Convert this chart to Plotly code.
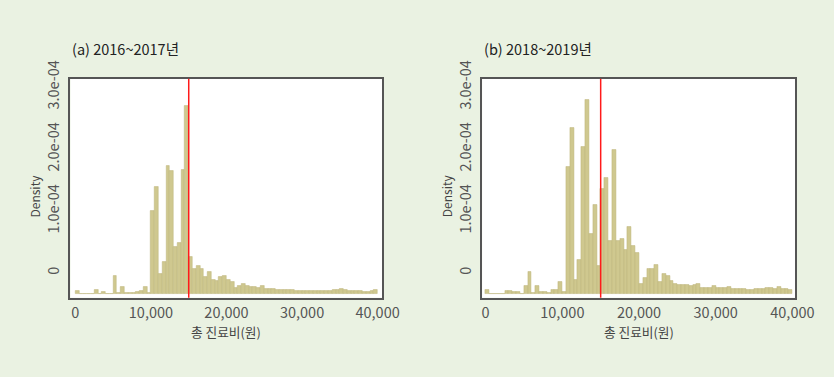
import plotly.graph_objects as go

# Histogram bins: 500-won wide, from 0 to 40,000 (80 bins)
bin_width = 500
bin_starts = list(range(0, 40000, bin_width))

# Density values (in units of 1e-4)
dens_a_e4 = [
    0.054, 0.005, 0.005, 0.005, 0.005, 0.065, 0.008, 0.043, 0.005, 0.005,
    0.300, 0.020, 0.113, 0.011, 0.011, 0.011, 0.043, 0.059, 0.117, 0.011,
    1.340, 1.730, 0.320, 0.520, 2.070, 1.980, 0.757, 0.819, 2.010, 3.040,
    0.598, 0.402, 0.453, 0.402, 0.283, 0.360, 0.221, 0.206, 0.283, 0.298,
    0.221, 0.196, 0.104, 0.128, 0.159, 0.134, 0.119, 0.108, 0.097, 0.124,
    0.088, 0.082, 0.077, 0.073, 0.066, 0.062, 0.062, 0.062, 0.059, 0.059,
    0.057, 0.054, 0.054, 0.051, 0.051, 0.051, 0.051, 0.054, 0.073, 0.066,
    0.077, 0.062, 0.057, 0.051, 0.046, 0.046, 0.043, 0.043, 0.046, 0.066,
]
dens_b_e4 = [
    0.073, 0.005, 0.005, 0.005, 0.005, 0.046, 0.051, 0.042, 0.036, 0.005,
    0.139, 0.351, 0.026, 0.128, 0.042, 0.036, 0.020, 0.073, 0.073, 0.190,
    0.036, 2.050, 2.680, 0.236, 0.552, 2.380, 3.130, 0.969, 1.440, 0.453,
    1.700, 1.870, 0.850, 2.330, 0.861, 0.886, 0.706, 1.080, 0.784, 0.669,
    0.165, 0.258, 0.413, 0.413, 0.464, 0.196, 0.329, 0.298, 0.216, 0.165,
    0.150, 0.150, 0.155, 0.139, 0.150, 0.165, 0.093, 0.093, 0.104, 0.124,
    0.097, 0.097, 0.097, 0.108, 0.088, 0.082, 0.077, 0.077, 0.073, 0.073,
    0.077, 0.082, 0.088, 0.097, 0.093, 0.088, 0.108, 0.088, 0.077, 0.066,
]

cutoff = 15000
titles = ["(a) 2016~2017년", "(b) 2018~2019년"]
x_title = "총 진료비(원)"
y_title = "Density"
x_tickvals = [0, 10000, 20000, 30000, 40000]
x_ticktext = ["0", "10,000", "20,000", "30,000", "40,000"]
y_tickvals = [0, 1e-4, 2e-4, 3e-4]
y_ticktext = ["0", "1.0e-04", "2.0e-04", "3.0e-04"]

W, H = 834, 377
BG = "#eaf2e2"
BAR = "#cfc88f"
BAR_LINE = "#bdb57a"
FONT = "Noto Sans CJK KR"

centers = [s + bin_width / 2 for s in bin_starts]

fig = go.Figure()

panels = [
    dict(dens=dens_a_e4, xd=[71.2 / W, 390.5 / W], xr=[-650, 40600], xa="x", ya="y"),
    dict(dens=dens_b_e4, xd=[493.0 / W, 813.6 / W], xr=[-450, 40350], xa="x2", ya="y2"),
]
ydom = [1 - 293.5 / H, 1 - 63 / H]
yr = [-0.06e-4, 3.47e-4]

for i, p in enumerate(panels):
    fig.add_trace(go.Bar(
        x=centers, y=[v * 1e-4 for v in p["dens"]], width=bin_width,
        marker=dict(color=BAR, line=dict(color=BAR_LINE, width=0.5)),
        xaxis=p["xa"], yaxis=p["ya"], showlegend=False, hoverinfo="skip",
    ))
    sfx = "" if i == 0 else "2"
    fig.layout["xaxis" + sfx] = dict(
        domain=p["xd"], range=p["xr"], anchor="y" + sfx,
        tickvals=x_tickvals, ticktext=x_ticktext, ticks="",
        showline=True, mirror=True, linecolor="#555555", linewidth=1.5,
        showgrid=False, zeroline=False, ticklabelstandoff=1,
        tickfont=dict(family=FONT, size=14.5, color="#555555"),
    )
    fig.layout["yaxis" + sfx] = dict(
        domain=ydom, range=yr, anchor="x" + sfx,
        tickvals=y_tickvals, ticktext=y_ticktext, ticks="", tickangle=-90,
        ticklabelshift=-21, ticklabelstandoff=4,
        showline=True, mirror=True, linecolor="#555555", linewidth=1.5,
        showgrid=False, zeroline=False,
        tickfont=dict(family=FONT, size=14.5, color="#555555"),
    )
    # cutoff line
    fig.add_shape(type="line", xref=p["xa"], yref=p["ya"] + " domain",
                  x0=cutoff, x1=cutoff, y0=0, y1=1,
                  line=dict(color="#ff1a1a", width=1.5))
    # panel title
    fig.add_annotation(text=titles[i], xref="paper", yref="paper",
                       x=p["xd"][0], y=1 - 31 / H, xanchor="left", yanchor="middle",
                       showarrow=False, font=dict(family=FONT, size=14.5, color="#222222"))
    # x title
    mid = (p["xd"][0] + p["xd"][1]) / 2
    fig.add_annotation(text=x_title, xref="paper", yref="paper",
                       x=mid, y=1 - 329.5 / H, xanchor="center", yanchor="middle",
                       showarrow=False, font=dict(family=FONT, size=12.7, color="#444444"))
    # y title
    fig.add_annotation(text=y_title, xref="paper", yref="paper",
                       x=p["xd"][0] - 37 / W, y=1 - 186.5 / H, xanchor="center", yanchor="middle",
                       textangle=-90, showarrow=False,
                       font=dict(family=FONT, size=12, color="#444444"))

fig.update_layout(
    width=W, height=H, margin=dict(l=0, r=0, t=0, b=0),
    paper_bgcolor=BG, plot_bgcolor="white", bargap=0,
)

fig.write_html(
    "out.html",
    config={"displayModeBar": False},
    post_script=(
        "document.documentElement.style.margin='0';"
        "document.documentElement.style.padding='0';"
        "document.documentElement.style.overflow='hidden';"
        "document.body.style.margin='0';"
        "document.body.style.padding='0';"
        "document.body.style.overflow='hidden';"
    ),
)
